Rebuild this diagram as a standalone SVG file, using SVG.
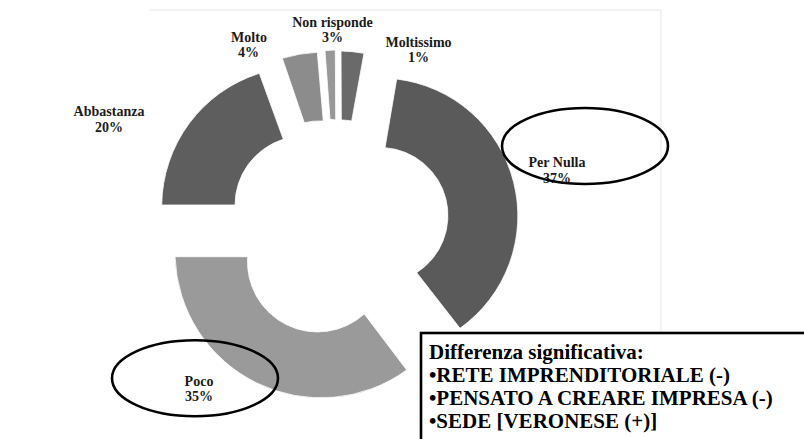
<svg xmlns="http://www.w3.org/2000/svg" width="804" height="439" viewBox="0 0 804 439">
<style>
.seg{stroke:#ffffff;stroke-width:0.8}
.lbl{font-family:'Liberation Serif','Times New Roman',serif;font-weight:700;font-size:14px;fill:#1a1a1a;text-anchor:middle}
.ring{fill:none;stroke:#000;stroke-width:2.6}
.box{font-family:'Liberation Serif','Times New Roman',serif;font-weight:700;font-size:21px;fill:#000}
</style>
<rect x="0" y="0" width="804" height="439" fill="#ffffff"/>
<polyline id="frame" points="150,10 661,10 661,333" fill="none" stroke="#e6e6e6" stroke-width="1"/>
<g id="chart">
<g id="seg-per-nulla"><path class="seg" fill="#5a5a5a" d="M396.7 79 A138 138 0 0 1 460 328.3 L416.7 272.7 A68 68 0 0 0 385 147.7 Z"/></g>
<g id="seg-poco"><path class="seg" fill="#9a9a9a" d="M406.7 370 A146 146 0 0 1 175 256.7 L247.7 256.7 A70 70 0 0 0 364.3 314 Z"/></g>
<g id="seg-abbastanza"><path class="seg" fill="#5e5e5e" d="M161.7 205 A140 140 0 0 1 259.3 73.3 L283.3 139.3 A69 69 0 0 0 235 205 Z"/></g>
<g id="seg-molto"><path class="seg" fill="#8c8c8c" d="M282.3 58.3 A140 140 0 0 1 317.3 52.3 L323.3 121 A69 69 0 0 0 304.3 122.7 Z"/></g>
<g id="seg-moltissimo"><path class="seg" fill="#989898" d="M325 50.7 A140 140 0 0 1 335.3 50 L335.7 120 A69 69 0 0 0 330 119.3 Z"/></g>
<g id="seg-non-risponde"><path class="seg" fill="#6a6a6a" d="M341 51 A140 140 0 0 1 364 53.3 L351.7 121 A69 69 0 0 0 341.3 120 Z"/></g>
</g>
<g id="labels">
<g id="lbl-non-risponde"><text class="lbl" x="332.5" y="26.5">Non risponde</text><text class="lbl" x="332.5" y="42">3%</text></g>
<g id="lbl-molto"><text class="lbl" x="249" y="41.5">Molto</text><text class="lbl" x="248.5" y="57">4%</text></g>
<g id="lbl-moltissimo"><text class="lbl" x="418.5" y="46.5">Moltissimo</text><text class="lbl" x="418.5" y="62">1%</text></g>
<g id="lbl-abbastanza"><text class="lbl" x="109" y="116">Abbastanza</text><text class="lbl" x="109" y="132">20%</text></g>
<g id="lbl-per-nulla"><text class="lbl" x="557" y="167.3">Per Nulla</text><text class="lbl" x="557" y="183.3">37%</text></g>
<g id="lbl-poco"><text class="lbl" x="199" y="385.5">Poco</text><text class="lbl" x="199" y="401">35%</text></g>
</g>
<g id="highlights">
<ellipse id="ring-per-nulla" class="ring" cx="585" cy="146" rx="83" ry="38"/>
<ellipse id="ring-poco" class="ring" cx="195" cy="378.3" rx="83" ry="38"/>
</g>
<g id="note">
<rect x="421" y="333" width="392" height="120" fill="#ffffff" stroke="#000" stroke-width="2.6"/>
<text class="box" x="429" y="359">Differenza significativa:</text>
<text class="box" x="429" y="382">•RETE IMPRENDITORIALE (-)</text>
<text class="box" x="429" y="405">•PENSATO A CREARE IMPRESA (-)</text>
<text class="box" x="429" y="428">•SEDE [VERONESE (+)]</text>
</g>
</svg>
